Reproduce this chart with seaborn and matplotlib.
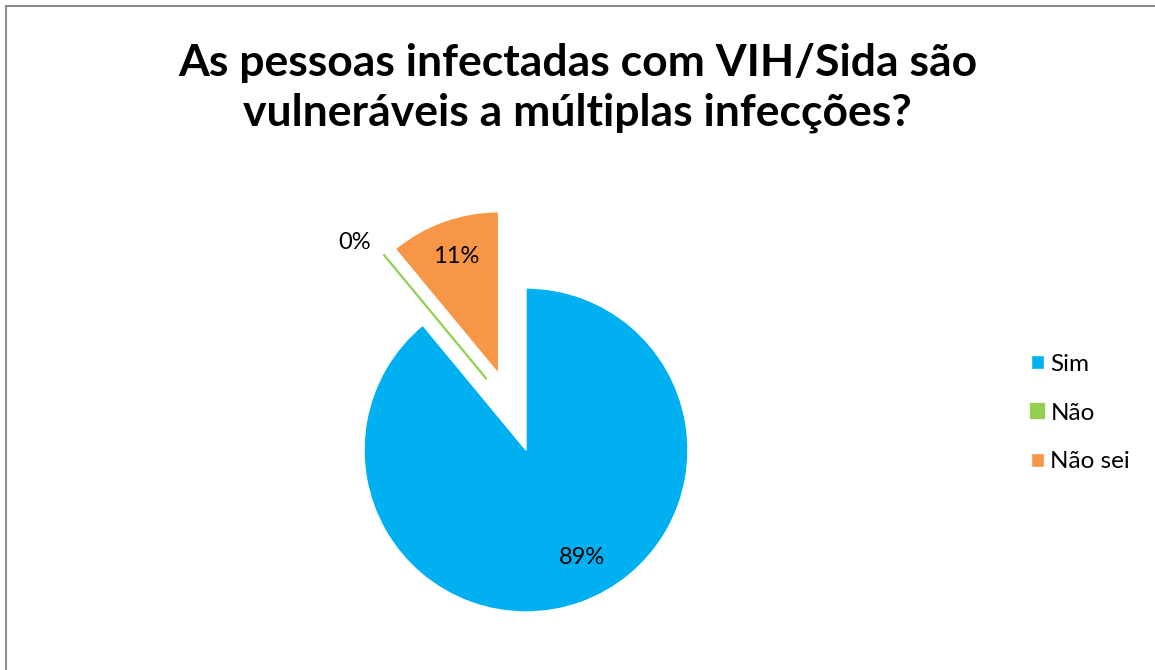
import matplotlib
matplotlib.use("Agg")
import numpy as np
import matplotlib.pyplot as plt
import seaborn as sns
from matplotlib.patches import Rectangle

# data
categories = ["Sim", "Não", "Não sei"]
values = [89, 0, 11]
colors = ["#00B0F0", "#92D050", "#F79646"]
title = "As pessoas infectadas com VIH/Sida são\nvulneráveis a múltiplas infecções?"

sns.set_theme(style="white")
plt.rcParams['font.family'] = ['Lato', 'DejaVu Sans']
plt.rcParams['text.color'] = 'black'

W, H = 1155, 670
fig = plt.figure(figsize=(W / 100, H / 100), dpi=100)
fig.patch.set_facecolor("white")

# pie centre at (526, 450) px from top-left, radius 162 px
R = 162
cx, cy = 526, H - 450
aw, ah = 500, 440
ax = fig.add_axes([(cx - aw / 2) / W, (cy - ah / 2) / H, aw / W, ah / H])

wedges, autotexts = ax.pie(values, colors=colors, startangle=90, counterclock=False,
                           explode=[0, 0.5, 0.5], autopct='%1.0f%%', pctdistance=0.77,
                           textprops=dict(fontsize=17, color="black"))[0::2]
# zero slice: Excel pushes it out a bit sideways so it doesn't touch "Sim"
wedges[1].set_edgecolor(colors[1])
wedges[1].set_linewidth(1.6)
wedges[1].set_zorder(5)
d = np.deg2rad(119)
wedges[1].set_center((0.5 * np.cos(d), 0.5 * np.sin(d)))
# Excel "best fit" label placement
a = np.deg2rad(-62.6)
autotexts[0].set_position((0.75 * np.cos(a), 0.75 * np.sin(a)))
# the 0% label sits outside its wedge
x, y = autotexts[1].get_position()
autotexts[1].set_position((x * 1.66 / 1.27, y * 1.66 / 1.27))
ax.set_xlim(-aw / 2 / R, aw / 2 / R)
ax.set_ylim(-ah / 2 / R, ah / 2 / R)
ax.axis("off")

fig.text(0.5, 1 - 88 / H, title, ha="center", va="center", fontsize=32,
         fontweight="bold", linespacing=1.3, color="black")

fig.legend(wedges, categories, loc="center left", bbox_to_anchor=(1031 / W, 1 - 413 / H),
           frameon=False, fontsize=17.5, handlelength=0.55, handleheight=0.55,
           handletextpad=0.25, labelspacing=1.15, borderpad=0, borderaxespad=0,
           labelcolor="black")

fig.patches.append(Rectangle((6 / W, -0.1), 1.2, 1 - 6 / H + 0.1, transform=fig.transFigure,
                             fill=False, edgecolor="#8c8c8c", linewidth=1.5))

fig.savefig("out.png", dpi=100)
